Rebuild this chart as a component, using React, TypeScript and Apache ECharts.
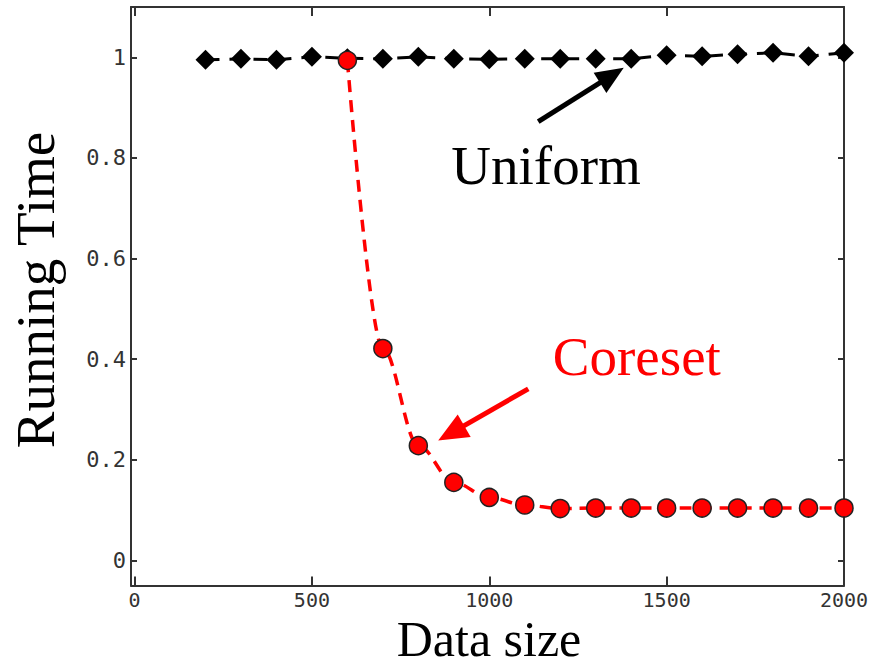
import React, { useEffect, useRef } from "react";
import * as echarts from "echarts";

const dataSizes = [200, 300, 400, 500, 600, 700, 800, 900, 1000, 1100, 1200, 1300, 1400, 1500, 1600, 1700, 1800, 1900, 2000];
const uniformTime = [0.995, 0.997, 0.995, 1.001, 0.998, 0.997, 1.001, 0.997, 0.996, 0.997, 0.997, 0.997, 0.997, 1.004, 1.002, 1.006, 1.009, 1.002, 1.009];
const coresetSizes = [600, 700, 800, 900, 1000, 1100, 1200, 1300, 1400, 1500, 1600, 1700, 1800, 1900, 2000];
const coresetTime = [0.994, 0.421, 0.228, 0.155, 0.125, 0.11, 0.103, 0.104, 0.104, 0.104, 0.104, 0.104, 0.104, 0.104, 0.104];
const xTicks = [0, 500, 1000, 1500, 2000];
const yTicks = [0, 0.2, 0.4, 0.6, 0.8, 1];

const xTitle = "Data size";
const yTitle = "Running Time";
const uniformLabel = { text: "Uniform", at: [1160, 0.784] };
const coresetLabel = { text: "Coreset", at: [1416, 0.405] };
const uniformArrow = { from: [1138, 0.872], to: [1379, 0.979] };
const coresetArrow = { from: [1110, 0.341], to: [856, 0.238] };

const SERIF = '"Liberation Serif", "Times New Roman", serif';
const MONO = '"DejaVu Sans Mono", "Liberation Mono", monospace';
const AXIS_COLOR = "#333";

function arrowShapes(p0: number[], p1: number[], color: string, headLen: number, headHalf: number, width: number) {
  const dx = p1[0] - p0[0];
  const dy = p1[1] - p0[1];
  const len = Math.sqrt(dx * dx + dy * dy);
  const ux = dx / len;
  const uy = dy / len;
  const nx = -uy;
  const ny = ux;
  const bx = p1[0] - ux * headLen;
  const by = p1[1] - uy * headLen;
  return [
    {
      type: "line",
      shape: { x1: p0[0], y1: p0[1], x2: bx + ux * 3, y2: by + uy * 3 },
      style: { stroke: color, lineWidth: width },
      z: 100,
    },
    {
      type: "polygon",
      shape: {
        points: [
          [p1[0], p1[1]],
          [bx + nx * headHalf, by + ny * headHalf],
          [bx - nx * headHalf, by - ny * headHalf],
        ],
      },
      style: { fill: color },
      z: 100,
    },
  ];
}

export default function App() {
  const ref = useRef<HTMLDivElement>(null);

  useEffect(() => {
    if (!ref.current) return;
    const chart = echarts.init(ref.current, undefined, { renderer: "svg" });

    const axisLine = { show: true, onZero: false, lineStyle: { color: AXIS_COLOR, width: 2 } };
    const xMin = -10;
    const xMax = 2000;
    const yMin = -0.05;
    const yMax = 1.1;
    const tickStyle = { color: AXIS_COLOR, width: 2 };

    const option: any = {
      animation: false,
      backgroundColor: "#fff",
      grid: { left: 131, right: 41, top: 7, bottom: 80.5, containLabel: false },
      xAxis: [
        {
          type: "value",
          position: "bottom",
          min: xMin,
          max: xMax,
          axisLine,
          axisTick: { show: true, inside: true, length: 9, customValues: xTicks, lineStyle: tickStyle },
          axisLabel: {
            show: true,
            customValues: xTicks,
            fontFamily: MONO,
            fontSize: 20,
            color: AXIS_COLOR,
            margin: 4,
            formatter: (v: number) => String(v),
          },
          splitLine: { show: false },
        },
        {
          type: "value",
          position: "top",
          min: xMin,
          max: xMax,
          axisLine,
          axisTick: { show: true, inside: true, length: 9, customValues: xTicks, lineStyle: tickStyle },
          axisLabel: { show: false },
          splitLine: { show: false },
        },
      ],
      yAxis: [
        {
          type: "value",
          position: "left",
          min: yMin,
          max: yMax,
          axisLine,
          axisTick: { show: true, inside: true, length: 6, customValues: yTicks, lineStyle: tickStyle },
          axisLabel: {
            show: true,
            customValues: yTicks,
            fontFamily: MONO,
            fontSize: 22,
            color: AXIS_COLOR,
            margin: 5,
            formatter: (v: number) => String(Math.round(v * 10) / 10),
          },
          splitLine: { show: false },
        },
        {
          type: "value",
          position: "right",
          min: yMin,
          max: yMax,
          axisLine,
          axisTick: { show: true, inside: true, length: 6, customValues: yTicks, lineStyle: tickStyle },
          axisLabel: { show: false },
          splitLine: { show: false },
        },
      ],
      series: [
        {
          name: "Uniform",
          type: "line",
          xAxisIndex: 0,
          yAxisIndex: 0,
          data: dataSizes.map((x, i) => [x, uniformTime[i]]),
          symbol: "diamond",
          symbolSize: 20,
          clip: false,
          itemStyle: { color: "#000" },
          lineStyle: { color: "#000", width: 3, type: [14, 10] },
          z: 2,
        },
        {
          name: "Coreset",
          type: "line",
          xAxisIndex: 0,
          yAxisIndex: 0,
          data: coresetSizes.map((x, i) => [x, coresetTime[i]]),
          symbol: "circle",
          symbolSize: 18,
          smooth: 0.35,
          smoothMonotone: "x",
          clip: false,
          itemStyle: { color: "#ff0000", borderColor: "#222", borderWidth: 1.5 },
          lineStyle: { color: "#ff0000", width: 3.5, type: [12, 8] },
          z: 3,
        },
      ],
    };

    chart.setOption(option);

    const toPx = (p: number[]) => chart.convertToPixel({ xAxisIndex: 0, yAxisIndex: 0 }, p) as number[];
    const uPos = toPx(uniformLabel.at);
    const cPos = toPx(coresetLabel.at);

    const textStyle = (text: string, fill: string, size: number) => ({
      text,
      fill,
      fontFamily: SERIF,
      fontSize: size,
      lineHeight: Math.round(size * 0.8),
      align: "center",
      verticalAlign: "middle",
      textAlign: "center",
      textVerticalAlign: "middle",
    });

    const elements: any[] = [
      { type: "text", x: uPos[0], y: uPos[1], style: textStyle(uniformLabel.text, "#000", 55), z: 100 },
      { type: "text", x: cPos[0], y: cPos[1], style: textStyle(coresetLabel.text, "#ff0000", 55), z: 100 },
      { type: "text", x: 489, y: 639, style: textStyle(xTitle, "#000", 50), z: 100 },
      { type: "text", x: 35, y: 290, rotation: Math.PI / 2, style: textStyle(yTitle, "#000", 55), z: 100 },
      ...arrowShapes(toPx(uniformArrow.from), toPx(uniformArrow.to), "#000", 28, 12, 5),
      ...arrowShapes(toPx(coresetArrow.from), toPx(coresetArrow.to), "#ff0000", 30, 13, 5),
    ];

    chart.setOption({ graphic: { elements } });

    return () => {
      chart.dispose();
    };
  }, []);

  return (
    <div
      ref={ref}
      style={{ position: "absolute", left: 0, top: 0, width: 885, height: 666, background: "#fff" }}
    />
  );
}
